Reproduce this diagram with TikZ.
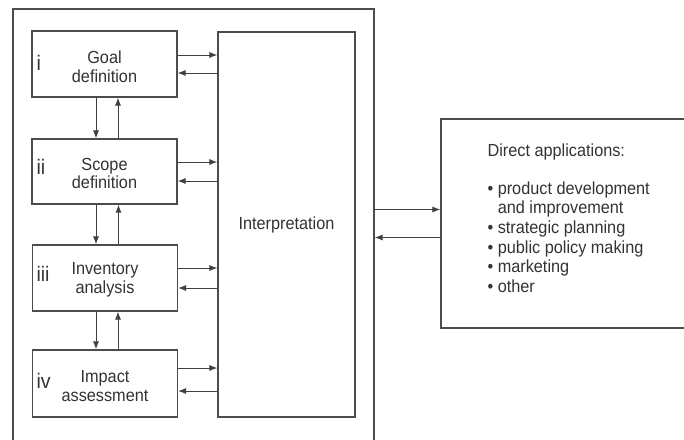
\documentclass[tikz,border=0pt]{standalone}
\usepackage{fontspec}
\setmainfont{Liberation Sans}[FakeStretch=0.93]
\usetikzlibrary{arrows.meta}
\begin{document}
\begin{tikzpicture}[x=1pt,y=-1pt,
  line width=1.1pt, draw=black!70,
  every node/.style={text=black!80, font=\fontsize{17.5}{18.5}\selectfont},
  stagebox/.style={draw=black!70, rectangle, minimum width=145pt, minimum height=66pt, align=center, inner sep=0pt},
  numeral/.style={font=\fontsize{21}{22}\selectfont, anchor=west, inner sep=0pt},
  arr/.style={draw=black!75, line width=1pt, -{Latex[length=8pt,width=6pt]}}
]
\clip (0,0) rectangle (684,439);
\fill[white] (0,0) rectangle (684,439);
% outer frame
\node[draw=black!70, minimum width=361pt, minimum height=441pt, inner sep=0pt] (frame) at (193.5,229.5) {};
% stages
\node[stagebox] (goal) at (104.5,64) {};
\node[stagebox, minimum height=65pt] (scope) at (104.5,171.5) {};
\node[stagebox] (inv) at (105,278) {};
\node[stagebox, minimum height=67pt] (imp) at (105,383.5) {};
\node[align=center, inner sep=0pt] (t1) at (104.5,66.5) {Goal\\definition};
\node[align=center, inner sep=0pt] (t2) at (104.5,173.5) {Scope\\definition};
\node[align=center, inner sep=0pt] (t3) at (105,280) {Inventory\\analysis};
\node[align=center, inner sep=0pt] (t4) at (105,386) {Impact\\assessment};
\node[numeral] (n1) at (36,63) {i};
\node[numeral] (n2) at (36,167) {ii};
\node[numeral] (n3) at (36,274) {iii};
\node[numeral] (n4) at (36,381) {iv};
% interpretation
\node[draw=black!70, minimum width=137pt, minimum height=385pt, inner sep=0pt] (interp) at (286.5,224.5) {Interpretation};
% applications
\node[draw=black!70, minimum width=259pt, minimum height=209pt, inner sep=0pt] (apps) at (570.5,223.5) {};
\node[anchor=north west, align=left, inner sep=0pt, font=\fontsize{17.5}{19.6}\selectfont] (applist) at (487,143)
 {Direct applications:\\[18.5pt]
  • product development\\
  \hphantom{• }and improvement\\
  • strategic planning\\
  • public policy making\\
  • marketing\\
  • other};
% vertical arrows
\draw[arr] ([xshift=-8.5pt]goal.south) -- ([xshift=-8.5pt]goal.south |- scope.north);
\draw[arr] ([xshift=13.5pt]scope.north) -- ([xshift=13.5pt]scope.north |- goal.south);
\draw[arr] ([xshift=-8.5pt]scope.south) -- ([xshift=-8.5pt]scope.south |- inv.north);
\draw[arr] ([xshift=13.5pt]inv.north) -- ([xshift=13.5pt]inv.north |- scope.south);
\draw[arr] ([xshift=-9pt]inv.south) -- ([xshift=-9pt]inv.south |- imp.north);
\draw[arr] ([xshift=13pt]imp.north) -- ([xshift=13pt]imp.north |- inv.south);
% horizontal arrows
\draw[arr] ([yshift=9pt]goal.east) -- ([yshift=9pt]goal.east -| interp.west);
\draw[arr] ([yshift=-9pt]goal.east -| interp.west) -- ([yshift=-9pt]goal.east);
\draw[arr] ([yshift=9.5pt]scope.east) -- ([yshift=9.5pt]scope.east -| interp.west);
\draw[arr] ([yshift=-9.5pt]scope.east -| interp.west) -- ([yshift=-9.5pt]scope.east);
\draw[arr] ([yshift=10pt]inv.east) -- ([yshift=10pt]inv.east -| interp.west);
\draw[arr] ([yshift=-10pt]inv.east -| interp.west) -- ([yshift=-10pt]inv.east);
\draw[arr] ([yshift=15.5pt]imp.east) -- ([yshift=15.5pt]imp.east -| interp.west);
\draw[arr] ([yshift=-7.5pt]imp.east -| interp.west) -- ([yshift=-7.5pt]imp.east);
% frame to applications
\draw[arr] ([yshift=14pt]apps.west -| frame.east) -- ([yshift=14pt]apps.west);
\draw[arr] ([yshift=-14pt]apps.west) -- ([yshift=-14pt]apps.west -| frame.east);
\end{tikzpicture}
\end{document}
